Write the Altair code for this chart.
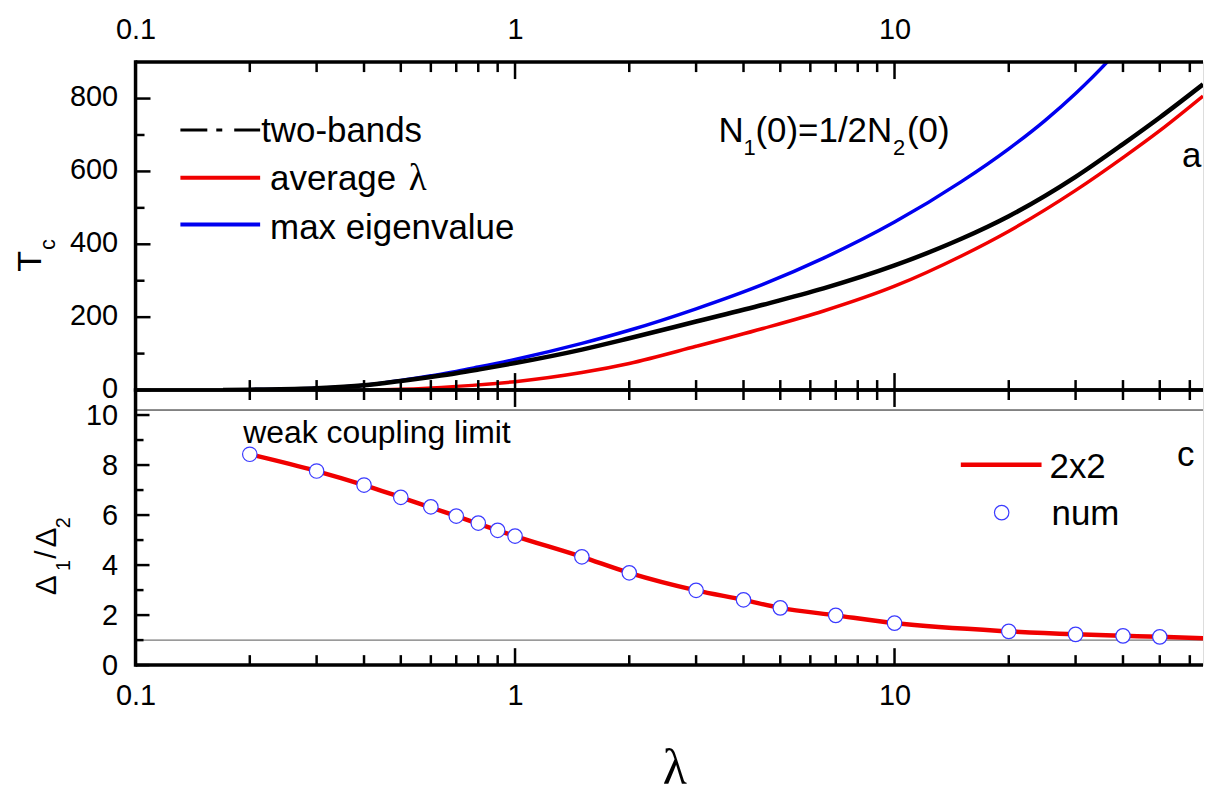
import altair as alt
import pandas as pd

# ---------------- data ----------------
two_band_lam = [0.17, 0.2, 0.3, 0.4, 0.5, 0.6, 0.7, 0.8, 1.0, 1.5, 2, 3, 4.5, 6.5, 10, 15, 20, 30, 40, 50, 65]
two_band_tc = [0, 1, 5, 13, 25, 36, 46, 56, 74, 111, 142, 188, 234, 279, 342, 415, 477, 585, 675, 748, 839]

avg_lam = [0.43, 0.5, 0.7, 1.0, 1.5, 2, 3, 4.5, 6.5, 10, 15, 20, 30, 40, 50, 65]
avg_tc = [0, 2, 10, 23, 48, 73, 120, 169, 217, 285, 368, 436, 548, 638, 712, 807]

max_lam = [0.17, 0.2, 0.3, 0.4, 0.5, 0.6, 0.7, 0.8, 1.0, 1.5, 2, 3, 4.5, 6.5, 10, 15, 20, 25, 30, 36, 40]
max_tc = [0, 1, 5, 13, 26, 39, 51, 63, 84, 128, 164, 223, 290, 362, 461, 572, 662, 741, 814, 896, 949]

num_lam = [0.2, 0.3, 0.4, 0.5, 0.6, 0.7, 0.8, 0.9, 1.0, 1.5, 2, 3, 4, 5, 7, 10, 20, 30, 40, 50]
num_ratio = [8.43, 7.76, 7.2, 6.71, 6.33, 5.96, 5.68, 5.39, 5.16, 4.33, 3.69, 2.99, 2.61, 2.29, 1.99, 1.68,
             1.35, 1.23, 1.17, 1.13]

fit_lam = [0.2, 0.3, 0.4, 0.5, 0.7, 1.0, 1.5, 2, 3, 4, 5, 7, 10, 20, 30, 40, 50, 65]
fit_ratio = [8.43, 7.76, 7.2, 6.71, 5.96, 5.16, 4.33, 3.69, 2.99, 2.61, 2.29, 1.99, 1.68, 1.35, 1.23, 1.17, 1.13, 1.07]

ref_levels = [1.0, 10.2]
ref_colors = ["#555555", "#111111"]

x_label_values = [0.1, 1, 10]
x_major_ticks = [1, 10]
x_minor_ticks = [0.2, 0.3, 0.4, 0.5, 0.6, 0.7, 0.8, 0.9, 2, 3, 4, 5, 6, 7, 8, 9, 20, 30, 40, 50, 60]
tc_major_ticks = [0, 200, 400, 600, 800]
tc_minor_ticks = [100, 300, 500, 700]
ratio_major_ticks = [0, 2, 4, 6, 8, 10]
ratio_minor_ticks = [1, 3, 5, 7, 9]

# ---------------- style ----------------
W = 1071
H_TOP = 329
H_BOT = 276
FONT = "Liberation Sans"
RED = "#f00000"
BLUE = "#0000f0"
CIRCLE = "#3a3aff"
BORDER = 3.5
LABEL_SIZE = 29

xscale = alt.Scale(type="log", domain=[0.1, 65])
tc_scale = alt.Scale(domain=[0, 900])
ratio_scale = alt.Scale(domain=[0, 11])

axis_common = dict(labelFont=FONT, labelFontSize=LABEL_SIZE, labelColor="black", domain=False, ticks=False,
                   tickSize=0, grid=False, labelFlush=False, labelOverlap=False)

X_TOP = alt.X("lam:Q", scale=xscale, title=None,
              axis=alt.Axis(orient="top", values=x_label_values, format="~g", labelPadding=18, **axis_common))
X_BOT = alt.X("lam:Q", scale=xscale, title=None,
              axis=alt.Axis(orient="bottom", values=x_label_values, format="~g", labelPadding=17, **axis_common))
Y_TOP = alt.Y("val:Q", scale=tc_scale, title=None,
              axis=alt.Axis(values=tc_major_ticks, labelPadding=18, labelOffset=-2, **axis_common))
Y_BOT = alt.Y("val:Q", scale=ratio_scale, title=None,
              axis=alt.Axis(values=ratio_major_ticks, labelPadding=18, **axis_common))

one = pd.DataFrame({"k": [0]})


def line(xs, ys, X, Y, color, width):
    return alt.Chart(pd.DataFrame({"lam": xs, "val": ys})).mark_line(
        color=color, strokeWidth=width, clip=True, interpolate="monotone").encode(x=X, y=Y)


def x_ticks(vals, X, length, h):
    df = pd.DataFrame({"lam": vals})
    top = alt.Chart(df).mark_rule(color="black", strokeWidth=2.5).encode(
        x=X, y=alt.value(0), y2=alt.value(length))
    bot = alt.Chart(df).mark_rule(color="black", strokeWidth=2.5).encode(
        x=X, y=alt.value(h), y2=alt.value(h - length))
    return [top, bot]


def y_ticks(vals, Y, length):
    df = pd.DataFrame({"val": vals})
    return [alt.Chart(df).mark_rule(color="black", strokeWidth=2.5).encode(
        y=Y, x=alt.value(0), x2=alt.value(length))]


def borders(h):
    return [
        alt.Chart(one).mark_rule(color="black", strokeWidth=BORDER).encode(
            x=alt.value(0), x2=alt.value(W), y=alt.value(0)),
        alt.Chart(one).mark_rule(color="black", strokeWidth=BORDER).encode(
            x=alt.value(0), x2=alt.value(W), y=alt.value(h)),
        alt.Chart(one).mark_rule(color="black", strokeWidth=BORDER).encode(
            x=alt.value(0), y=alt.value(-BORDER / 2), y2=alt.value(h + BORDER / 2)),
    ]


def text(s, x, y, size=35, angle=0, align="left", baseline="alphabetic", font=FONT, color="black"):
    kw = dict(text=s, font=font, fontSize=size, align=align, baseline=baseline, color=color)
    if angle:
        kw["angle"] = angle
    return alt.Chart(one).mark_text(**kw).encode(x=alt.value(x), y=alt.value(y))


def seg(x1, x2, y, color, width, dash=None):
    kw = dict(color=color, strokeWidth=width)
    if dash:
        kw["strokeDash"] = dash
    return alt.Chart(one).mark_rule(**kw).encode(x=alt.value(x1), x2=alt.value(x2), y=alt.value(y))


def pin(x, y):
    return alt.Chart(one).mark_rule(color="white", strokeWidth=1).encode(
        x=alt.value(x), x2=alt.value(x + 1), y=alt.value(y), y2=alt.value(y + 1))


# ---------------- top panel: Tc ----------------
top_layers = [
    line(avg_lam, avg_tc, X_TOP, Y_TOP, RED, 3.5),
    line(max_lam, max_tc, X_TOP, Y_TOP, BLUE, 3.5),
    line(two_band_lam, two_band_tc, X_TOP, Y_TOP, "black", 4.5),
]
top_layers += x_ticks(x_major_ticks, X_TOP, 17, H_TOP) + x_ticks(x_minor_ticks, X_TOP, 10, H_TOP)
top_layers += y_ticks(tc_major_ticks, Y_TOP, 15) + y_ticks(tc_minor_ticks, Y_TOP, 9)
top_layers += borders(H_TOP)
top_layers += [
    # legend
    seg(45, 125, 68, "black", 3, [27, 9, 6, 12, 26]),
    text("two-bands", 126, 80),
    seg(45, 125, 116, RED, 4),
    text("average", 135, 128),
    text("λ", 274, 128, size=37, font="Liberation Serif"),
    seg(45, 125, 163, BLUE, 4),
    text("max eigenvalue", 135, 177),
    # N1(0)=1/2N2(0)
    text("N", 585, 80),
    text("1", 610, 93, size=22),
    text("(0)=1/2N", 622, 80),
    text("2", 760, 93, size=22),
    text("(0)", 774, 80),
    text("a", 1050, 105),
    # y title T_c
    text("T", -95, 200, size=34, angle=270, align="center"),
    text("c", -81, 183, size=22, angle=270, align="center"),
    pin(-135, -60),
]
top = alt.layer(*top_layers).properties(width=W, height=H_TOP)

# ---------------- bottom panel: gap ratio ----------------
bot_layers = [
    alt.Chart(pd.DataFrame({"val": ref_levels, "col": ref_colors})).mark_rule(strokeWidth=1).encode(
        y=Y_BOT, color=alt.Color("col:N", scale=None)),
    alt.Chart(pd.DataFrame({"lam": fit_lam, "val": fit_ratio})).mark_line(
        color=RED, strokeWidth=4.5, interpolate="monotone", clip=True).encode(x=X_BOT, y=Y_BOT),
    alt.Chart(pd.DataFrame({"lam": num_lam, "val": num_ratio})).mark_point(
        shape="circle", size=210, filled=True, fill="white", stroke=CIRCLE, strokeWidth=1.2,
        opacity=1).encode(x=X_BOT, y=Y_BOT),
]
bot_layers += x_ticks(x_major_ticks, X_BOT, 17, H_BOT) + x_ticks(x_minor_ticks, X_BOT, 10, H_BOT)
bot_layers += y_ticks(ratio_major_ticks, Y_BOT, 14) + y_ticks(ratio_minor_ticks, Y_BOT, 8)
bot_layers += borders(H_BOT)
bot_layers += [
    text("weak coupling limit", 108, 53, size=32),
    seg(828, 909, 75, RED, 4.5),
    text("2x2", 917, 88),
    alt.Chart(one).mark_point(shape="circle", size=210, filled=True, fill="white", stroke=CIRCLE,
                              strokeWidth=1.2, opacity=1).encode(x=alt.value(869), y=alt.value(123)),
    text("num", 919, 135),
    text("c", 1045, 76),
    # y title Δ1/Δ2
    text("Δ", -80, 196, size=30, angle=270, align="center"),
    text("1", -66, 176, size=20, angle=270, align="center"),
    text("/", -80, 165, size=30, angle=270, align="center"),
    text("Δ", -80, 148, size=30, angle=270, align="center"),
    text("2", -66, 133, size=20, angle=270, align="center"),
    # x title
    text("λ", 541, 395, size=50, align="center", font="Liberation Serif"),
    pin(-135, 405),
]
bottom = alt.layer(*bot_layers).properties(width=W, height=H_BOT)

chart = alt.vconcat(top, bottom, spacing=0, bounds="flush").properties(
    padding={"left": 0, "top": 0, "right": 0, "bottom": 0}
).configure_view(strokeWidth=0).configure(background="white")

chart.save("out.html", embed_options={"renderer": "svg", "actions": False})
